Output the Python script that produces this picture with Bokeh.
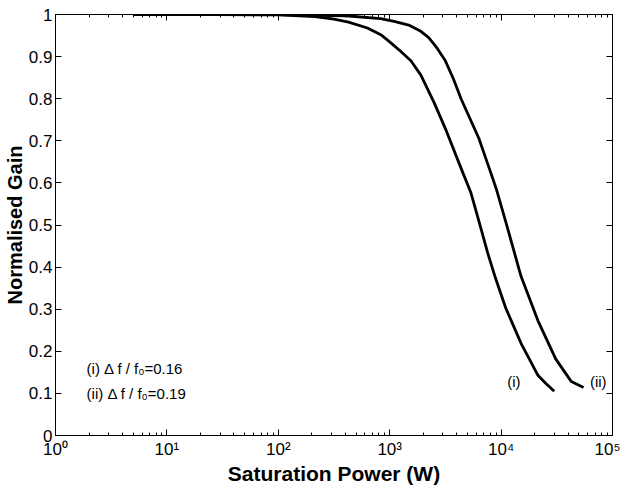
from bokeh.plotting import figure
from bokeh.models import FixedTicker, LogAxis, LinearAxis, Range1d
from bokeh.core.properties import value
from bokeh.embed import file_html
from bokeh.resources import INLINE

# ---- data ----
power_i = [5, 30, 100, 214, 316, 427, 631, 832, 1000, 1260, 1550, 1905, 2510, 3160,
           4570, 5370, 6310, 7590, 8900, 11000, 12600, 15100, 17800, 21400, 25100, 30000]
gain_i = [1.0, 1.0, 0.999, 0.995, 0.989, 0.982, 0.968, 0.952, 0.935, 0.912, 0.89, 0.856, 0.79, 0.729,
          0.622, 0.576, 0.51, 0.433, 0.374, 0.303, 0.267, 0.219, 0.183, 0.143, 0.124, 0.105]

power_ii = [5, 100, 400, 832, 1120, 1480, 1905, 2240, 2630, 3160, 3720, 4370, 6310, 8130, 9120,
            11000, 15100, 21400, 30900, 42700, 55000]
gain_ii = [1.0, 1.0, 0.997, 0.99, 0.983, 0.975, 0.96, 0.945, 0.922, 0.89, 0.848, 0.80, 0.706, 0.622, 0.583,
           0.508, 0.378, 0.273, 0.182, 0.128, 0.114]

x_major = [1, 10, 100, 1000, 10000, 100000]
x_labels = ["10\u2070", "10\u00b9", "10\u00b2", "10\u00b3", "10\u2074", "10\u2075"]
x_minor = [m * d for d in [1, 10, 100, 1000, 10000] for m in range(2, 10)]

y_major = [0, 0.1, 0.2, 0.3, 0.4, 0.5, 0.6, 0.7, 0.8, 0.9, 1]
y_labels = ["0", "0.1", "0.2", "0.3", "0.4", "0.5", "0.6", "0.7", "0.8", "0.9", "1"]

legend_text = ["(i) \u0394 f / f\u2080=0.16", "(ii) \u0394 f / f\u2080=0.19"]
legend_x = [1.9, 1.9]
legend_y = [0.16, 0.1]

curve_labels = ["(i)", "(ii)"]
curve_label_x = [13000, 74500]
curve_label_y = [0.128, 0.128]

FONT = "Liberation Sans"

p = figure(width=620, height=487, x_axis_type="log",
           x_range=Range1d(1, 100000), y_range=Range1d(0, 1),
           output_backend="svg", toolbar_location=None,
           min_border_left=48, min_border_right=8, min_border_top=14, min_border_bottom=40)

p.xgrid.visible = False
p.ygrid.visible = False
p.outline_line_color = "black"
p.background_fill_color = "white"
p.border_fill_color = "white"

xt = FixedTicker(ticks=x_major, minor_ticks=x_minor)
yt = FixedTicker(ticks=y_major)

def style_axis(ax, show_labels):
    ax.axis_line_color = "black"
    ax.major_tick_in = 6
    ax.major_tick_out = 0
    ax.minor_tick_in = 3
    ax.minor_tick_out = 0
    ax.major_tick_line_color = "black"
    ax.minor_tick_line_color = "black"
    if not show_labels:
        ax.major_label_text_font_size = "1px"
        ax.major_label_text_color = None
        ax.major_label_standoff = 0
        ax.axis_label_standoff = 0

xa = p.xaxis[0]
xa.ticker = xt
xa.major_label_overrides = {k: v for k, v in zip(x_major, x_labels)}
style_axis(xa, True)
xa.major_label_text_font = FONT
xa.major_label_text_font_size = "17px"
xa.major_label_text_color = "black"
xa.major_label_standoff = 4
xa.axis_label = "Saturation Power (W)"
xa.axis_label_text_font = FONT
xa.axis_label_text_font_style = "bold"
xa.axis_label_text_font_size = "21px"
xa.axis_label_standoff = 0
xa.axis_label_text_color = "black"

ya = p.yaxis[0]
ya.ticker = yt
ya.major_label_overrides = {k: v for k, v in zip(y_major, y_labels)}
style_axis(ya, True)
ya.minor_tick_line_color = None
ya.major_label_text_font = FONT
ya.major_label_text_font_size = "17px"
ya.major_label_text_color = "black"
ya.major_label_standoff = 3
ya.axis_label = "Normalised Gain"
ya.axis_label_text_font = FONT
ya.axis_label_text_font_style = "bold"
ya.axis_label_text_font_size = "20px"
ya.axis_label_standoff = 0
ya.axis_label_text_color = "black"

top = LogAxis(ticker=FixedTicker(ticks=x_major, minor_ticks=x_minor))
style_axis(top, False)
top.major_label_overrides = {k: "" for k in x_major}
p.add_layout(top, "above")

right = LinearAxis(ticker=FixedTicker(ticks=y_major))
style_axis(right, False)
right.major_label_overrides = {k: "" for k in y_major}
right.minor_tick_line_color = None
p.add_layout(right, "right")

p.line(power_i, gain_i, line_color="black", line_width=2.8)
p.line(power_ii, gain_ii, line_color="black", line_width=2.8)

p.text(x=legend_x, y=legend_y, text=legend_text, text_font=value(FONT),
       text_font_size="15px", text_align="left", text_baseline="middle", text_color="black")
p.text(x=curve_label_x, y=curve_label_y, text=curve_labels, text_font=value(FONT),
       text_font_size="15px", text_align="center", text_baseline="middle", text_color="black")

open("out.html", "w").write(file_html(p, INLINE))
